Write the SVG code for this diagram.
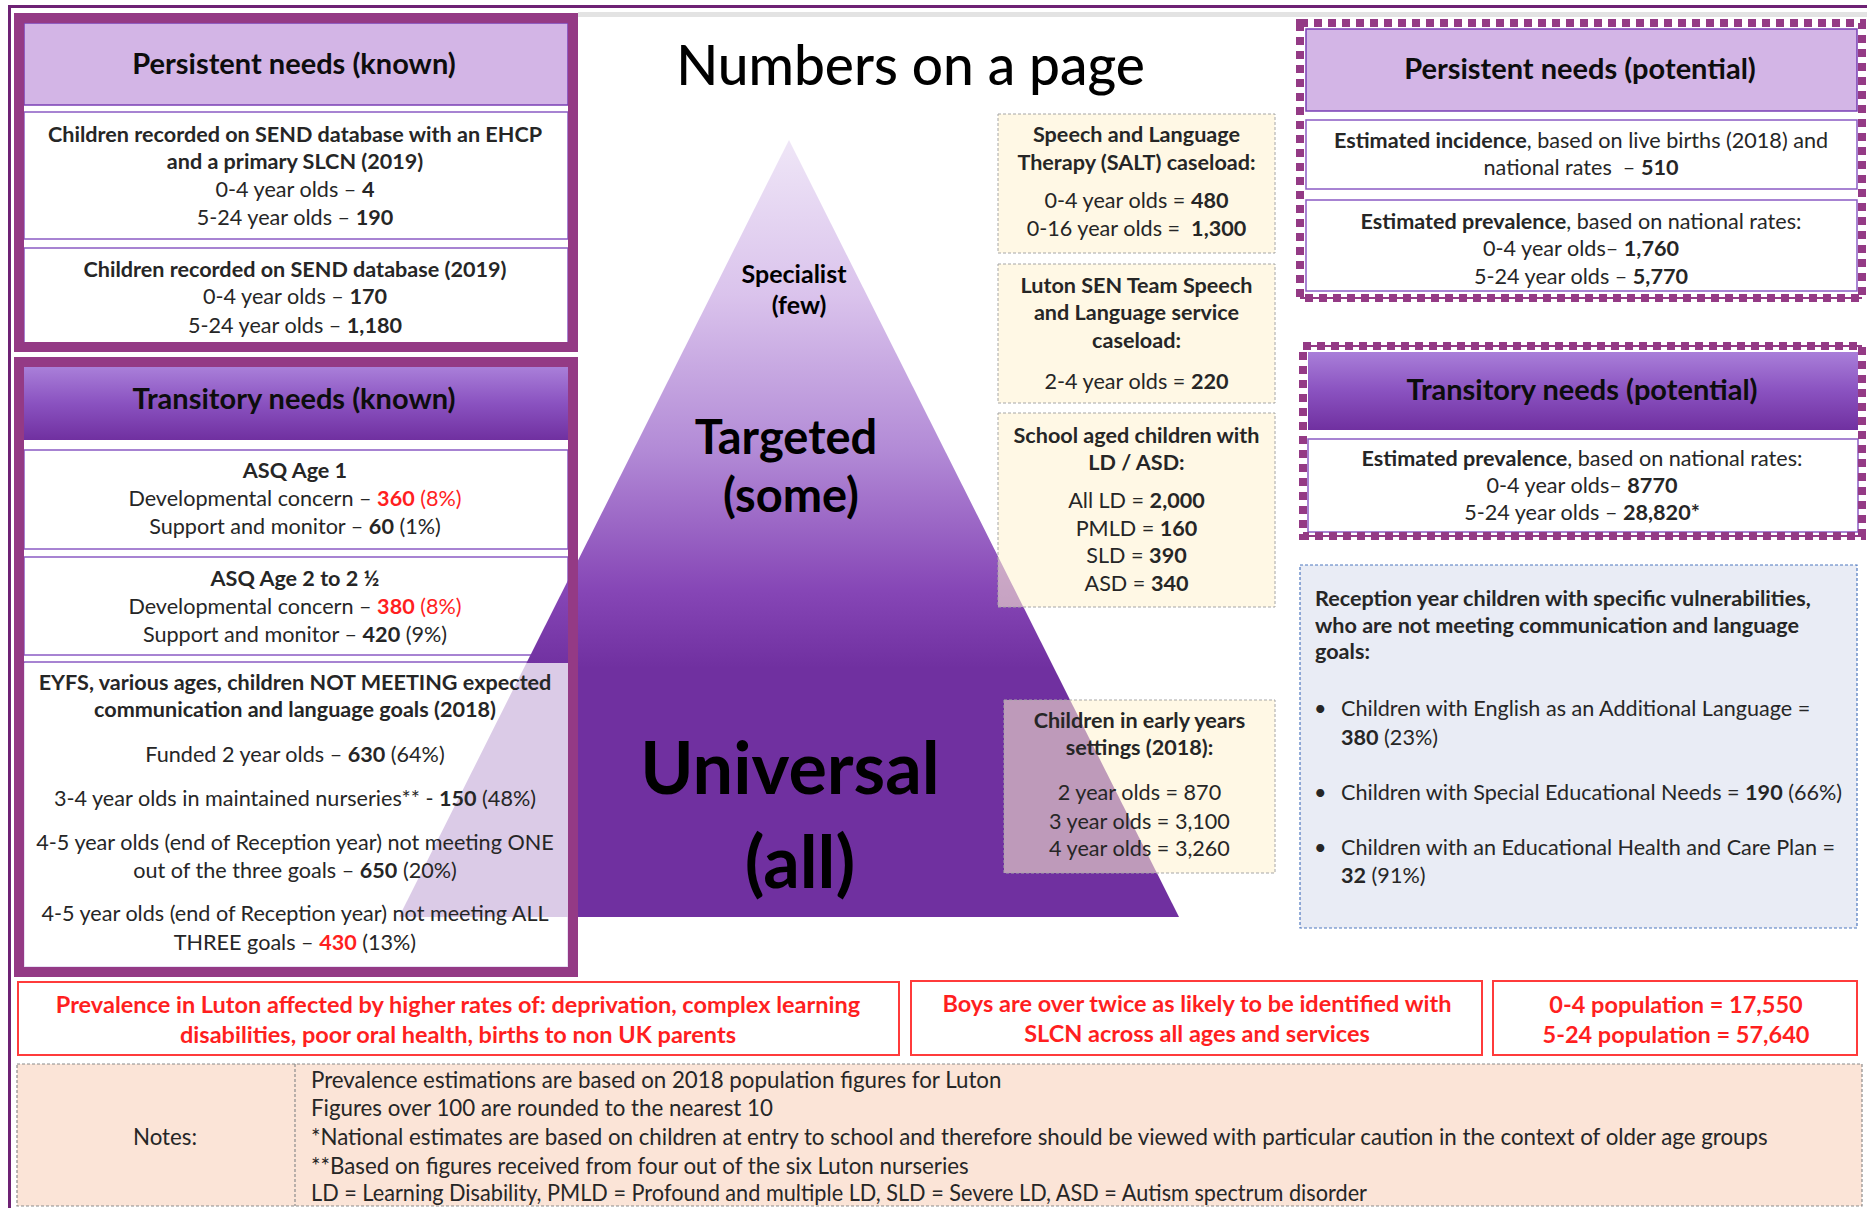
<svg xmlns="http://www.w3.org/2000/svg" width="1867" height="1208" viewBox="0 0 1867 1208">
<defs>
<style>
text{font-family:Lato,"Open Sans","Liberation Sans",sans-serif;}
.c{text-anchor:middle;font-size:21.6px;fill:#262626}
.l{text-anchor:start;font-size:21.6px;fill:#262626}
.b{font-weight:700}
.red{fill:#FF1F1F}
.rt{font-size:23.5px}
.nt{font-size:22.3px}
.hd{text-anchor:middle;font-size:29px;font-weight:700;fill:#0d0d0d}
.frame{fill:none;stroke:#943A85;stroke-width:10}
.sec{fill:#fff;stroke:#8B5BC4;stroke-width:1.5}
.hdl{fill:#D3B5E6;stroke:#7A3FB5;stroke-width:1.5}
.yel{fill:#FFF2D0;fill-opacity:0.55;stroke:#A6A6A6;stroke-width:1;stroke-dasharray:3 2}
.dash{fill:none;stroke:#943A85;stroke-width:8;stroke-dasharray:8 6}
.thin{stroke:#943A85;stroke-width:2}
.redbox{fill:#fff;stroke:#FF3B3B;stroke-width:2}
.pyr{text-anchor:middle;font-weight:700;fill:#000}
</style>
<linearGradient id="pyrg" x1="0" y1="140" x2="0" y2="917" gradientUnits="userSpaceOnUse">
<stop offset="0" stop-color="#EFE6F7"/>
<stop offset="0.2" stop-color="#DAC3EC"/>
<stop offset="0.4" stop-color="#B28AD6"/>
<stop offset="0.58" stop-color="#8646B6"/>
<stop offset="0.68" stop-color="#7030A0"/>
<stop offset="1" stop-color="#7030A0"/>
</linearGradient>
<linearGradient id="hdrg" x1="0" y1="0" x2="0" y2="1">
<stop offset="0" stop-color="#A97FD9"/>
<stop offset="0.5" stop-color="#8A52C0"/>
<stop offset="1" stop-color="#7030A0"/>
</linearGradient>
</defs>
<rect x="0" y="0" width="1867" height="1208" fill="#fff"/>
<rect x="578" y="12" width="1289" height="5" fill="#E3E3E3"/>
<path d="M9.5 1208 V6.5 H1867" fill="none" stroke="#6E2274" stroke-width="3"/>

<g id="persistent-known">
<rect x="24" y="23" width="544" height="320" fill="#fff"/>
<rect class="hdl" x="24" y="23" width="544" height="82"/>
<rect class="sec" x="24" y="112" width="544" height="127"/>
<rect class="sec" x="24" y="248" width="544" height="95"/>
<rect class="frame" x="19" y="18" width="554" height="329"/>
<text class="hd" x="294" y="74">Persistent needs (known)</text>
<text class="c b" x="295" y="142">Children recorded on SEND database with an EHCP</text>
<text class="c b" x="295" y="169">and a primary SLCN (2019)</text>
<text class="c" x="295" y="197">0-4 year olds – <tspan class="b">4</tspan></text>
<text class="c" x="295" y="225">5-24 year olds – <tspan class="b">190</tspan></text>
<text class="c b" x="295" y="277">Children recorded on SEND database (2019)</text>
<text class="c" x="295" y="304">0-4 year olds – <tspan class="b">170</tspan></text>
<text class="c" x="295" y="333">5-24 year olds – <tspan class="b">1,180</tspan></text>
</g>

<g id="transitory-known-bg">
<rect x="24" y="367" width="544" height="600" fill="#fff"/>
<rect x="24" y="367" width="544" height="73" fill="url(#hdrg)"/>
<rect class="sec" x="24" y="450" width="544" height="99"/>
<rect class="sec" x="24" y="557" width="544" height="98"/>
<rect class="sec" x="24" y="662" width="544" height="305"/>
</g>

<g id="pyramid">
<polygon points="789,140 1179,917 399,917" fill="url(#pyrg)"/>
</g>

<g id="transitory-known">
<rect x="24" y="663" width="544" height="304" fill="#fff" fill-opacity="0.75"/>
<rect class="frame" x="19" y="362" width="554" height="610"/>
<text class="hd" x="294" y="409">Transitory needs (known)</text>
<text class="c b" x="295" y="478">ASQ Age 1</text>
<text class="c" x="295" y="506">Developmental concern – <tspan class="b red">360</tspan><tspan class="red"> (8%)</tspan></text>
<text class="c" x="295" y="534">Support and monitor – <tspan class="b">60</tspan> (1%)</text>
<text class="c b" x="295" y="586">ASQ Age 2 to 2 ½</text>
<text class="c" x="295" y="614">Developmental concern – <tspan class="b red">380</tspan><tspan class="red"> (8%)</tspan></text>
<text class="c" x="295" y="642">Support and monitor – <tspan class="b">420</tspan> (9%)</text>
<text class="c b" x="295" y="690">EYFS, various ages, children NOT MEETING expected</text>
<text class="c b" x="295" y="717">communication and language goals (2018)</text>
<text class="c" x="295" y="762">Funded 2 year olds – <tspan class="b">630</tspan> (64%)</text>
<text class="c" x="295" y="806">3-4 year olds in maintained nurseries** - <tspan class="b">150</tspan> (48%)</text>
<text class="c" x="295" y="850">4-5 year olds (end of Reception year) not meeting ONE</text>
<text class="c" x="295" y="878">out of the three goals – <tspan class="b">650</tspan> (20%)</text>
<text class="c" x="295" y="921">4-5 year olds (end of Reception year) not meeting ALL</text>
<text class="c" x="295" y="950">THREE goals – <tspan class="b red">430</tspan> (13%)</text>
</g>

<g id="salt">
<rect class="yel" x="998" y="114" width="277" height="139"/>
<text class="c b" x="1136.5" y="142">Speech and Language</text>
<text class="c b" x="1136.5" y="170">Therapy (SALT) caseload:</text>
<text class="c" x="1136.5" y="208">0-4 year olds = <tspan class="b">480</tspan></text>
<text class="c" x="1136.5" y="236">0-16 year olds =&#160; <tspan class="b">1,300</tspan></text>
</g>
<g id="sen-team">
<rect class="yel" x="998" y="264" width="277" height="139"/>
<text class="c b" x="1136.5" y="293">Luton SEN Team Speech</text>
<text class="c b" x="1136.5" y="320">and Language service</text>
<text class="c b" x="1136.5" y="348">caseload:</text>
<text class="c" x="1136.5" y="389">2-4 year olds = <tspan class="b">220</tspan></text>
</g>
<g id="school-aged">
<rect class="yel" x="998" y="413" width="277" height="194"/>
<text class="c b" x="1136.5" y="443">School aged children with</text>
<text class="c b" x="1136.5" y="470">LD / ASD:</text>
<text class="c" x="1136.5" y="508">All LD = <tspan class="b">2,000</tspan></text>
<text class="c" x="1136.5" y="536">PMLD = <tspan class="b">160</tspan></text>
<text class="c" x="1136.5" y="563">SLD = <tspan class="b">390</tspan></text>
<text class="c" x="1136.5" y="591">ASD = <tspan class="b">340</tspan></text>
</g>
<g id="early-years">
<rect class="yel" x="1004" y="700" width="271" height="173"/>
<text class="c b" x="1139.5" y="728">Children in early years</text>
<text class="c b" x="1139.5" y="755">settings (2018):</text>
<text class="c" x="1139.5" y="800">2 year olds = 870</text>
<text class="c" x="1139.5" y="829">3 year olds = 3,100</text>
<text class="c" x="1139.5" y="856">4 year olds = 3,260</text>
</g>

<g id="pyramid-labels">
<text class="pyr" x="794" y="283" font-size="25">Specialist</text>
<text class="pyr" x="799" y="314" font-size="25">(few)</text>
<text class="pyr" x="786" y="454" font-size="47">Targeted</text>
<text class="pyr" x="791" y="512" font-size="47">(some)</text>
<text class="pyr" x="790" y="794" font-size="72">Universal</text>
<text class="pyr" x="800" y="888" font-size="72">(all)</text>
</g>

<g id="title">
<text x="910.5" y="85" text-anchor="middle" font-size="55" font-weight="500" fill="#000">Numbers on a page</text>
</g>

<g id="persistent-potential">
<rect class="hdl" x="1306" y="29" width="551" height="82"/>
<rect class="sec" x="1306" y="120" width="551" height="69"/>
<rect class="sec" x="1306" y="200" width="551" height="91"/>
<rect class="dash" x="1300" y="23" width="562" height="275"/>
<line class="thin" x1="1300" y1="298" x2="1862" y2="298"/>
<text class="hd" x="1580" y="79">Persistent needs (potential)</text>
<text class="c" x="1581" y="148"><tspan class="b">Estimated incidence</tspan>, based on live births (2018) and</text>
<text class="c" x="1581" y="175">national rates&#160; – <tspan class="b">510</tspan></text>
<text class="c" x="1581" y="229"><tspan class="b">Estimated prevalence</tspan>, based on national rates:</text>
<text class="c" x="1581" y="256">0-4 year olds– <tspan class="b">1,760</tspan></text>
<text class="c" x="1581" y="284">5-24 year olds – <tspan class="b">5,770</tspan></text>
</g>

<g id="transitory-potential">
<rect x="1308" y="352" width="550" height="78" fill="url(#hdrg)"/>
<rect class="sec" x="1308" y="439" width="550" height="93"/>
<rect class="dash" x="1303" y="346" width="559" height="190"/>
<line class="thin" x1="1303" y1="346" x2="1862" y2="346"/>
<line class="thin" x1="1303" y1="536" x2="1862" y2="536"/>
<text class="hd" x="1582" y="400">Transitory needs (potential)</text>
<text class="c" x="1582" y="466"><tspan class="b">Estimated prevalence</tspan>, based on national rates:</text>
<text class="c" x="1582" y="493">0-4 year olds– <tspan class="b">8770</tspan></text>
<text class="c" x="1582" y="520">5-24 year olds – <tspan class="b">28,820*</tspan></text>
</g>

<g id="reception">
<rect x="1300" y="565" width="557" height="363" fill="#E9ECF5" stroke="#4F78C0" stroke-width="1.2" stroke-dasharray="3 2"/>
<text class="l b" x="1315" y="606">Reception year children with specific vulnerabilities,</text>
<text class="l b" x="1315" y="633">who are not meeting communication and language</text>
<text class="l b" x="1315" y="659">goals:</text>
<text class="l" x="1314" y="716">•</text>
<text class="l" x="1341" y="716">Children with English as an Additional Language =</text>
<text class="l" x="1341" y="745"><tspan class="b">380</tspan> (23%)</text>
<text class="l" x="1314" y="800">•</text>
<text class="l" x="1341" y="800">Children with Special Educational Needs = <tspan class="b">190</tspan> (66%)</text>
<text class="l" x="1314" y="855">•</text>
<text class="l" x="1341" y="855">Children with an Educational Health and Care Plan =</text>
<text class="l" x="1341" y="883"><tspan class="b">32</tspan> (91%)</text>
</g>

<g id="prevalence-note">
<rect class="redbox" x="18" y="982" width="881" height="73"/>
<text class="c b red rt" x="458" y="1013">Prevalence in Luton affected by higher rates of: deprivation, complex learning</text>
<text class="c b red rt" x="458" y="1043">disabilities, poor oral health, births to non UK parents</text>
</g>
<g id="boys-note">
<rect class="redbox" x="911" y="981" width="571" height="74"/>
<text class="c b red rt" x="1197" y="1012">Boys are over twice as likely to be identified with</text>
<text class="c b red rt" x="1197" y="1042">SLCN across all ages and services</text>
</g>
<g id="population-note">
<rect class="redbox" x="1493" y="981" width="364" height="74"/>
<text class="c b red rt" x="1676" y="1013">0-4 population = 17,550</text>
<text class="c b red rt" x="1676" y="1043">5-24 population = 57,640</text>
</g>

<g id="notes">
<rect x="17" y="1064" width="1845" height="142" fill="#FBE4D7" stroke="#8C8C8C" stroke-width="1.2" stroke-dasharray="3 2"/>
<line x1="295" y1="1064" x2="295" y2="1206" stroke="#8C8C8C" stroke-width="1.2" stroke-dasharray="3 2"/>
<text class="c nt" x="165" y="1145">Notes:</text>
<text class="l nt" x="311" y="1088">Prevalence estimations are based on 2018 population figures for Luton</text>
<text class="l nt" x="311" y="1116">Figures over 100 are rounded to the nearest 10</text>
<text class="l nt" x="311" y="1145">*National estimates are based on children at entry to school and therefore should be viewed with particular caution in the context of older age groups</text>
<text class="l nt" x="311" y="1174">**Based on figures received from four out of the six Luton nurseries</text>
<text class="l nt" x="311" y="1201" textLength="1056" lengthAdjust="spacingAndGlyphs">LD = Learning Disability, PMLD = Profound and multiple LD, SLD = Severe LD, ASD = Autism spectrum disorder</text>
</g>
</svg>
